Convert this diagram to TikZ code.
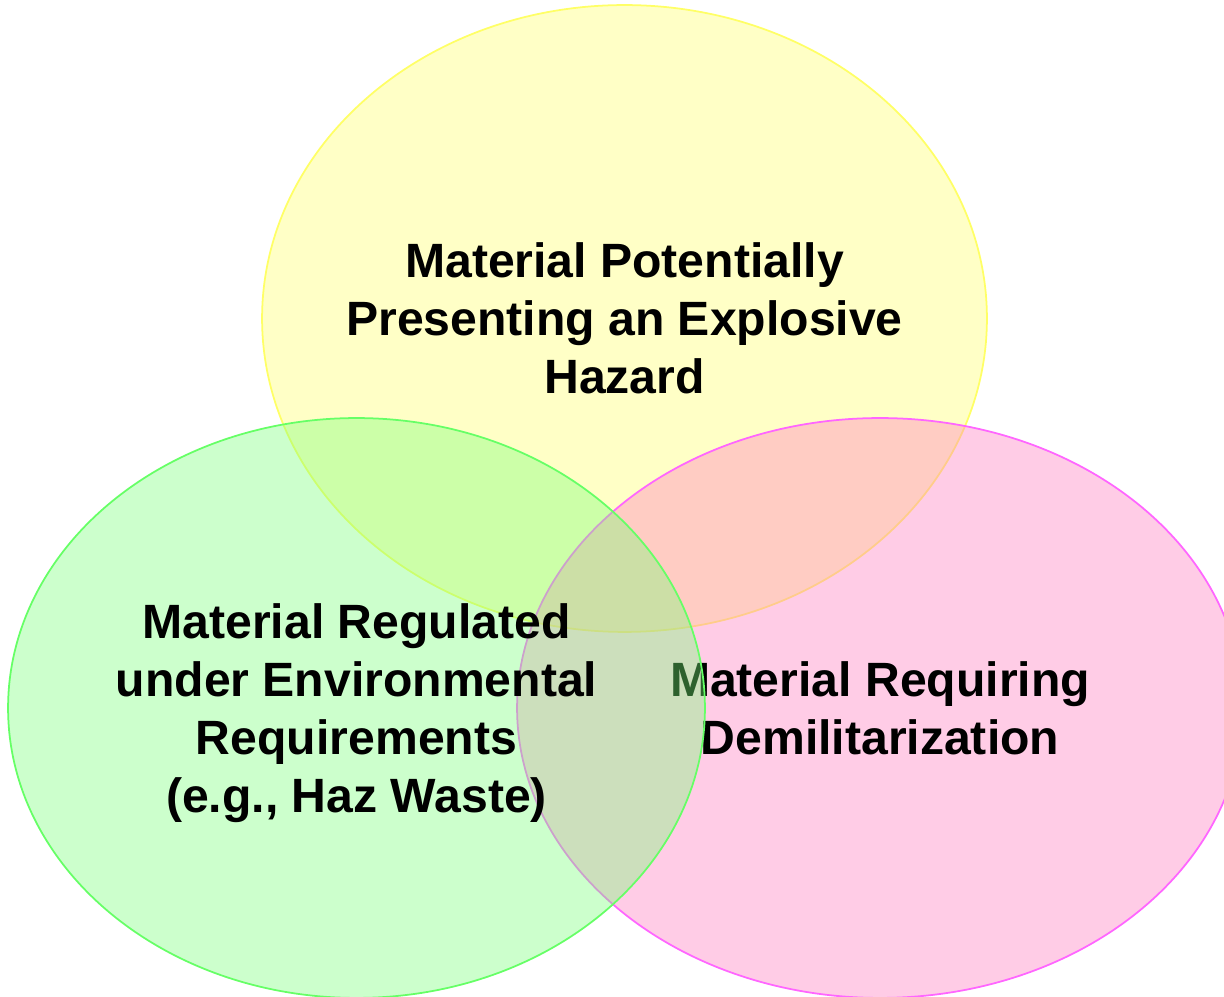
\documentclass[tikz,border=0pt]{standalone}
\usepackage{fontspec}
\setmainfont{Liberation Sans}
\usepackage{tikz}
\usetikzlibrary{shapes.geometric}
\definecolor{hazfill}{RGB}{255,255,198}
\definecolor{hazline}{RGB}{255,255,102}
\definecolor{envfill}{RGB}{121,255,121}
\definecolor{envline}{RGB}{102,255,102}
\definecolor{demilfill}{RGB}{255,128,192}
\definecolor{demilline}{RGB}{255,102,255}
\tikzstyle{blob} = [ellipse,inner sep=0pt,line width=1pt]
\tikzstyle{label} = [align=center,font=\bfseries\fontsize{27.4}{33}\selectfont]

\begin{document}
\begin{tikzpicture}[x=0.02cm,y=0.02cm]

\useasboundingbox (0,0) rectangle (1224,997);
\clip (0,0) rectangle (1224,997);

%explosive hazard on top, then demil, then environmental over both
\node[blob,draw=hazline,fill=hazfill,minimum width=14.5cm,minimum height=12.54cm] (hazard) at (624.5,678.5) {};
\node[label] (hazardtext) at (hazard.center) {Material Potentially\\Presenting an Explosive\\Hazard};

\node[blob,draw=demilline,fill=demilfill,fill opacity=0.4,minimum width=14.52cm,minimum height=11.6cm] (demil) at (880,289) {};
\node[label] (demiltext) at (demil.center) {Material Requiring\\Demilitarization};

\node[blob,draw=envline,fill=envfill,fill opacity=0.38,minimum width=13.94cm,minimum height=11.6cm] (env) at (356.5,289) {};
\node[label] (envtext) at ([yshift=-0.1cm]env.center) {Material Regulated\\under Environmental\\Requirements\\(e.g., Haz Waste)};

\end{tikzpicture}
\end{document}
